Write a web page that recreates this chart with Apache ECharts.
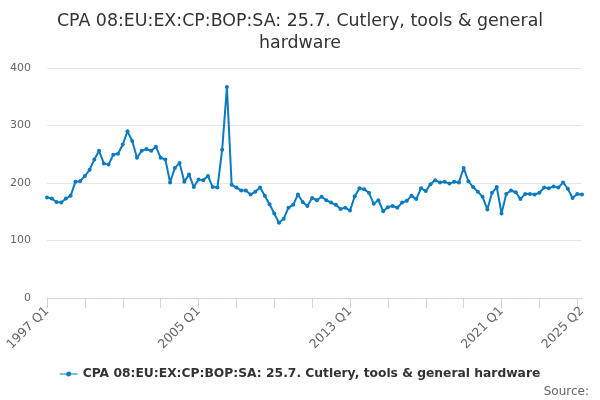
<!DOCTYPE html>
<html>
<head>
<meta charset="utf-8">
<script src="https://cdn.jsdelivr.net/npm/echarts@6/dist/echarts.min.js"></script>
<style>html,body{margin:0;padding:0;background:#fff;}#c{width:600px;height:400px;}</style>
</head>
<body>
<div id="c"></div>
<script>
const startYear = 1997;
const seriesName = "CPA 08:EU:EX:CP:BOP:SA: 25.7. Cutlery, tools & general hardware";
const values = [
  175,173,167,166, 173,178,202,203, 212,223,241,256, 234,232,249,251,
  267,290,273,244, 256,259,256,263, 244,241,201,226, 235,202,215,193,
  206,205,212,193, 192,258,367,197, 192,187,187,180, 185,192,178,163,
  147,131,138,157, 162,180,167,160, 174,170,176,170, 166,162,155,157,
  152,177,191,189, 183,164,170,151, 158,160,157,166, 169,178,172,191,
  186,198,205,201, 202,199,202,201, 226,203,193,185, 176,154,183,193,
  147,181,187,184, 172,181,181,180, 183,192,191,194, 192,201,190,174,
  181,180
];
const categories = values.map((v, i) => (startYear + Math.floor(i / 4)) + " Q" + (i % 4 + 1));
const yTicks = [0, 100, 200, 300, 400];

const chart = echarts.init(document.getElementById('c'));
chart.setOption({
  animation: false,
  title: {
    text: "CPA 08:EU:EX:CP:BOP:SA: 25.7. Cutlery, tools & general\nhardware",
    left: 'center', top: 5,
    textStyle: { fontFamily: 'DejaVu Sans', fontSize: 17.4, fontWeight: 'normal', color: '#333333', lineHeight: 22 }
  },
  grid: { left: 47, right: 18, top: 68, bottom: 102 },
  xAxis: {
    type: 'category', data: categories, boundaryGap: false,
    axisLine: { lineStyle: { color: '#ccd6eb' } },
    axisTick: { lineStyle: { color: '#ccd6eb' }, length: 10, interval: (i) => i % 8 === 0 },
    axisLabel: {
      color: '#666666', fontFamily: 'DejaVu Sans', fontSize: 12.5, rotate: 45, margin: 11,
      interval: (i) => i % 32 === 0 || i === values.length - 1
    },
    splitLine: { show: false }
  },
  yAxis: {
    type: 'value', min: yTicks[0], max: yTicks[yTicks.length - 1], interval: 100,
    axisLine: { show: false }, axisTick: { show: false },
    axisLabel: { color: '#666666', fontFamily: 'DejaVu Sans', fontSize: 11, margin: 16 },
    splitLine: { lineStyle: { color: '#e6e6e6' } }
  },
  legend: {
    bottom: 15, left: 'center', itemWidth: 18, itemHeight: 8, itemGap: 4,
    textStyle: { fontFamily: 'DejaVu Sans', fontSize: 12.3, fontWeight: 'bold', color: '#333333' },
    data: [{ name: seriesName, icon: 'path://M0,3.5 L18,3.5 L18,4.5 L0,4.5 Z M9,1.5 A2.5,2.5 0 1 1 8.99,1.5 Z' }]
  },
  graphic: [{
    type: 'text', right: 11, bottom: 2,
    style: { text: 'Source:', fill: '#666666', font: '12px DejaVu Sans' }
  }],
  series: [{
    name: seriesName, type: 'line', data: values,
    symbol: 'circle', symbolSize: 4, showAllSymbol: true,
    lineStyle: { color: '#0a7bc1', width: 2 },
    itemStyle: { color: '#0a7bc1' }
  }]
});
</script>
</body>
</html>
